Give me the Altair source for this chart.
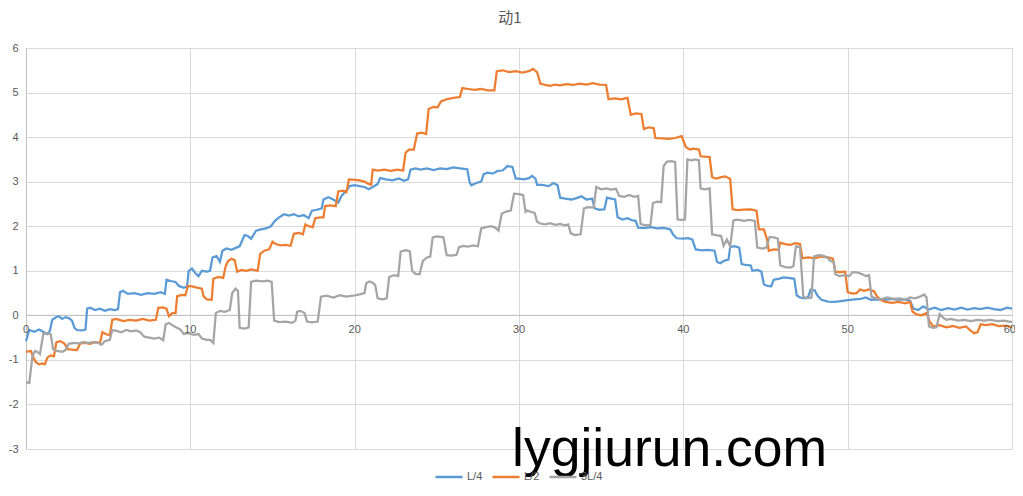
import altair as alt
import pandas as pd

# ---- data ----
series_names = ["L/4", "L/2", "3L/4"]
series_colors = ["#5b9bd5", "#ed7d31", "#a5a5a5"]
x_ticks = [0, 10, 20, 30, 40, 50, 60]
y_ticks = [-3, -2, -1, 0, 1, 2, 3, 4, 5, 6]

l4_x = [0, 0.1, 0.2, 0.5, 0.8, 1.1, 1.3, 1.45, 1.6, 1.8, 2.0, 2.2, 2.4, 2.6, 2.8, 2.95, 3.1, 3.4, 3.62,
        3.72, 3.9, 4.2, 4.5, 4.8, 5.1, 5.4, 5.6, 5.72, 5.9, 6.2, 6.6, 7.0, 7.4, 7.8, 8.2, 8.45, 8.55,
        8.8, 9.1, 9.3, 9.6, 9.8, 9.9, 10.1, 10.3, 10.5, 10.7, 11.0, 11.2, 11.35, 11.6, 11.8, 11.95,
        12.2, 12.5, 12.8, 13.0, 13.3, 13.5, 13.7, 14.0, 14.3, 14.6, 14.9, 15.15, 15.4, 15.7, 16.0,
        16.3, 16.6, 16.9, 17.2, 17.4, 17.7, 18.0, 18.1, 18.4, 18.7, 19.0, 19.2, 19.5, 19.7, 20.0,
        20.3, 20.6, 20.85, 21.1, 21.4, 21.55, 21.9, 22.3, 22.7, 23.0, 23.25, 23.4, 23.7, 24.0, 24.4,
        24.8, 25.2, 25.6, 26.0, 26.4, 26.85, 27.0, 27.1, 27.4, 27.7, 27.85, 28.1, 28.4, 28.7, 29.0,
        29.3, 29.6, 29.8, 30.0, 30.3, 30.6, 30.8, 31.0, 31.1, 31.4, 31.8, 32.1, 32.35, 32.5, 32.8,
        33.2, 33.5, 33.8, 34.1, 34.45, 34.6, 34.9, 35.2, 35.35, 35.6, 35.85, 36.0, 36.3, 36.6, 36.9,
        37.1, 37.25, 37.6, 38.0, 38.4, 38.8, 39.2, 39.4, 39.6, 40.0, 40.3, 40.55, 40.75, 41.1, 41.5,
        41.9, 42.05, 42.25, 42.5, 42.75, 42.85, 43.1, 43.4, 43.55, 43.8, 44.1, 44.2, 44.5, 44.75,
        44.9, 45.1, 45.35, 45.5, 45.8, 46.1, 46.4, 46.75, 46.9, 47.1, 47.4, 47.6, 47.75, 48.0, 48.15,
        48.4, 48.8, 49.2, 49.6, 50.0, 50.4, 50.8, 51.1, 51.4, 51.8, 52.2, 52.6, 53.0, 53.4, 53.8,
        54.0, 54.3, 54.6, 54.9, 55.3, 55.7, 56.1, 56.5, 56.9, 57.3, 57.7, 58.1, 58.5, 58.9, 59.3,
        59.7, 60.0]
l4_y = [-0.58, -0.45, -0.33, -0.37, -0.32, -0.38, -0.42, -0.35, -0.1, -0.05, -0.02, -0.08, -0.04,
        -0.06, -0.12, -0.28, -0.33, -0.34, -0.32, 0.15, 0.17, 0.12, 0.15, 0.1, 0.14, 0.12, 0.14, 0.52,
        0.55, 0.48, 0.5, 0.46, 0.5, 0.48, 0.52, 0.48, 0.8, 0.77, 0.75, 0.66, 0.62, 0.65, 1.0, 1.05,
        0.95, 0.88, 1.0, 0.98, 1.0, 1.3, 1.33, 1.2, 1.45, 1.5, 1.47, 1.52, 1.55, 1.8, 1.78, 1.72,
        1.9, 1.93, 1.95, 2.0, 2.12, 2.2, 2.27, 2.24, 2.27, 2.22, 2.25, 2.18, 2.35, 2.37, 2.4, 2.6,
        2.65, 2.6, 2.53, 2.68, 2.8, 2.9, 2.92, 2.9, 2.88, 2.83, 2.88, 2.95, 3.08, 3.05, 3.03, 3.07,
        3.02, 3.05, 3.27, 3.3, 3.27, 3.3, 3.26, 3.3, 3.28, 3.32, 3.3, 3.28, 2.98, 2.92, 2.97, 3.0,
        3.17, 3.2, 3.18, 3.24, 3.25, 3.35, 3.33, 3.07, 3.07, 3.05, 3.08, 3.13, 3.07, 2.93, 2.93, 2.9,
        2.97, 2.92, 2.64, 2.62, 2.6, 2.63, 2.67, 2.6, 2.62, 2.4, 2.37, 2.38, 2.64, 2.62, 2.6, 2.2,
        2.15, 2.18, 2.13, 2.12, 1.97, 1.96, 1.98, 1.95, 1.96, 1.93, 1.8, 1.73, 1.72, 1.73, 1.7, 1.48,
        1.46, 1.47, 1.45, 1.2, 1.17, 1.23, 1.25, 1.53, 1.55, 1.52, 1.15, 1.13, 1.12, 1.0, 1.02, 0.98,
        0.7, 0.66, 0.65, 0.8, 0.82, 0.85, 0.84, 0.82, 0.45, 0.4, 0.38, 0.42, 0.58, 0.56, 0.45, 0.35,
        0.31, 0.3, 0.32, 0.34, 0.36, 0.37, 0.4, 0.35, 0.36, 0.34, 0.37, 0.35, 0.36, 0.33, 0.15, 0.12,
        0.2, 0.13, 0.17, 0.12, 0.16, 0.13, 0.17, 0.13, 0.16, 0.14, 0.17, 0.14, 0.12, 0.17, 0.15]

l2_x = [0, 0.3, 0.45, 0.6, 0.8, 1.0, 1.15, 1.3, 1.5, 1.7, 1.85, 2.1, 2.35, 2.55, 2.8, 3.1, 3.3, 3.6,
        3.9, 4.2, 4.5, 4.65, 4.85, 5.1, 5.25, 5.5, 5.9, 6.3, 6.7, 7.1, 7.5, 7.9, 8.05, 8.3, 8.55, 8.7,
        8.9, 9.1, 9.2, 9.5, 9.7, 9.85, 10.1, 10.4, 10.7, 10.8, 11.0, 11.3, 11.4, 11.7, 12.0, 12.15,
        12.3, 12.5, 12.7, 12.85, 13.1, 13.4, 13.7, 14.1, 14.25, 14.5, 14.8, 15.0, 15.2, 15.5, 15.8,
        16.1, 16.3, 16.6, 16.85, 17.0, 17.2, 17.45, 17.6, 17.9, 18.1, 18.2, 18.5, 18.85, 19.0, 19.3,
        19.5, 19.65, 20.0, 20.3, 20.6, 20.85, 21.0, 21.1, 21.4, 21.8, 22.2, 22.6, 22.95, 23.1, 23.3,
        23.6, 23.8, 24.1, 24.35, 24.5, 24.8, 25.05, 25.25, 25.6, 26.0, 26.4, 26.55, 26.9, 27.3, 27.7,
        28.1, 28.5, 28.65, 29.0, 29.4, 29.8, 30.2, 30.6, 30.85, 31.1, 31.3, 31.6, 31.9, 32.2, 32.5,
        32.9, 33.3, 33.7, 34.1, 34.5, 34.9, 35.3, 35.45, 35.8, 36.2, 36.6, 36.8, 37.1, 37.45, 37.6,
        37.9, 38.2, 38.3, 38.7, 39.1, 39.5, 39.9, 40.15, 40.4, 40.6, 40.95, 41.05, 41.3, 41.6, 41.75,
        42.0, 42.3, 42.55, 42.85, 43.0, 43.3, 43.7, 44.1, 44.45, 44.6, 44.9, 45.1, 45.2, 45.5, 45.8,
        45.9, 46.2, 46.5, 46.8, 47.1, 47.25, 47.6, 48.0, 48.4, 48.8, 49.1, 49.25, 49.5, 49.85, 50.0,
        50.3, 50.55, 50.75, 51.0, 51.3, 51.6, 51.8, 52.0, 52.3, 52.7, 53.1, 53.5, 53.8, 53.95, 54.2,
        54.5, 54.8, 55.0, 55.2, 55.6, 56.0, 56.4, 56.8, 57.2, 57.5, 57.7, 57.9, 58.1, 58.4, 58.8,
        59.2, 59.6, 60.0]
l2_y = [-0.82, -0.8, -0.95, -1.05, -1.1, -1.08, -1.1, -0.95, -0.9, -0.92, -0.6, -0.58, -0.64, -0.76,
        -0.77, -0.78, -0.63, -0.62, -0.64, -0.6, -0.62, -0.38, -0.42, -0.45, -0.1, -0.08, -0.13, -0.1,
        -0.12, -0.08, -0.12, -0.1, 0.17, 0.18, 0.15, -0.02, 0.05, 0.05, 0.43, 0.46, 0.45, 0.66, 0.65,
        0.62, 0.6, 0.43, 0.36, 0.35, 0.82, 0.86, 0.84, 1.1, 1.22, 1.27, 1.24, 0.98, 1.02, 1.0, 1.03,
        1.0, 1.38, 1.45, 1.48, 1.65, 1.6, 1.57, 1.58, 1.56, 1.83, 1.85, 1.82, 2.04, 2.0, 1.98, 2.18,
        2.2, 2.2, 2.45, 2.47, 2.45, 2.78, 2.8, 2.76, 3.05, 3.04, 3.03, 3.0, 2.95, 2.93, 3.27, 3.25,
        3.27, 3.24, 3.27, 3.25, 3.65, 3.72, 3.72, 4.08, 4.1, 4.07, 4.63, 4.68, 4.67, 4.8, 4.85, 4.88,
        4.9, 5.1, 5.08, 5.06, 5.08, 5.05, 5.05, 5.48, 5.5, 5.46, 5.48, 5.45, 5.48, 5.53, 5.46, 5.2,
        5.17, 5.15, 5.18, 5.16, 5.19, 5.17, 5.2, 5.18, 5.21, 5.18, 5.17, 4.85, 4.87, 4.85, 4.88, 4.5,
        4.53, 4.52, 4.18, 4.22, 4.2, 3.98, 3.97, 3.96, 3.98, 4.02, 3.78, 3.72, 3.74, 3.72, 3.57, 3.56,
        3.55, 3.1, 3.07, 3.1, 3.12, 3.06, 2.38, 2.36, 2.37, 2.38, 2.35, 1.93, 1.93, 1.7, 1.45, 1.48,
        1.47, 1.63, 1.6, 1.58, 1.62, 1.6, 1.28, 1.3, 1.28, 1.32, 1.3, 1.27, 0.98, 0.97, 0.98, 0.52,
        0.49, 0.5, 0.58, 0.55, 0.58, 0.54, 0.42, 0.35, 0.3, 0.28, 0.3, 0.27, 0.3, 0.08, 0.02, 0.0,
        0.05, -0.15, -0.25, -0.22, -0.27, -0.24, -0.28, -0.25, -0.35, -0.4, -0.38, -0.2, -0.22, -0.2,
        -0.24, -0.23, -0.27]

l34_x = [0, 0.2, 0.3, 0.4, 0.55, 0.7, 0.85, 1.05, 1.3, 1.5, 1.65, 1.9, 2.2, 2.4, 2.6, 2.9, 3.2, 3.5,
         3.8, 4.1, 4.4, 4.6, 4.8, 5.1, 5.25, 5.5, 5.8, 6.1, 6.4, 6.7, 6.95, 7.2, 7.5, 7.8, 8.1, 8.35,
         8.5, 8.7, 8.9, 9.1, 9.4, 9.6, 9.9, 10.2, 10.5, 10.7, 11.0, 11.2, 11.4, 11.55, 11.8, 12.1,
         12.4, 12.55, 12.75, 12.9, 13.0, 13.3, 13.55, 13.7, 14.0, 14.4, 14.7, 14.95, 15.1, 15.4, 15.8,
         16.2, 16.4, 16.5, 16.7, 16.95, 17.1, 17.4, 17.75, 17.95, 18.3, 18.7, 19.1, 19.5, 19.9, 20.3,
         20.6, 20.7, 20.9, 21.1, 21.25, 21.4, 21.7, 21.95, 22.1, 22.4, 22.65, 22.8, 23.1, 23.35, 23.5,
         23.7, 23.95, 24.15, 24.4, 24.6, 24.75, 25.0, 25.4, 25.6, 25.9, 26.2, 26.35, 26.6, 26.9, 27.2,
         27.5, 27.7, 28.0, 28.3, 28.55, 28.75, 28.95, 29.2, 29.5, 29.7, 30.0, 30.25, 30.4, 30.5,
         30.75, 30.95, 31.1, 31.3, 31.6, 31.9, 32.2, 32.5, 32.8, 33.0, 33.15, 33.4, 33.75, 33.95,
         34.2, 34.55, 34.7, 35.0, 35.3, 35.6, 35.9, 36.1, 36.4, 36.7, 37.0, 37.25, 37.4, 37.7, 38.0,
         38.15, 38.4, 38.65, 38.8, 39.0, 39.3, 39.5, 39.65, 39.9, 40.1, 40.25, 40.5, 40.7, 40.95,
         41.05, 41.3, 41.6, 41.75, 42.0, 42.3, 42.45, 42.65, 42.85, 43.05, 43.3, 43.7, 44.0, 44.35,
         44.5, 44.8, 45.05, 45.25, 45.5, 45.75, 45.9, 46.2, 46.5, 46.7, 46.85, 47.1, 47.3, 47.5, 47.8,
         47.95, 48.2, 48.5, 48.75, 48.95, 49.15, 49.25, 49.5, 49.8, 50.1, 50.3, 50.6, 50.9, 51.1,
         51.3, 51.45, 51.7, 52.0, 52.4, 52.8, 53.2, 53.5, 53.8, 54.1, 54.4, 54.65, 54.8, 54.95, 55.2,
         55.4, 55.6, 55.8, 56.0, 56.3, 56.7, 57.1, 57.5, 57.9, 58.3, 58.7, 59.1, 59.5, 60.0]
l34_y = [-1.5, -1.52, -1.2, -0.9, -0.8, -0.82, -0.87, -0.42, -0.4, -0.42, -0.76, -0.8, -0.82, -0.78,
         -0.64, -0.62, -0.63, -0.6, -0.62, -0.6, -0.62, -0.66, -0.58, -0.55, -0.33, -0.35, -0.38,
         -0.33, -0.36, -0.34, -0.38, -0.48, -0.5, -0.52, -0.5, -0.56, -0.2, -0.17, -0.22, -0.26, -0.32,
         -0.42, -0.4, -0.44, -0.42, -0.52, -0.55, -0.55, -0.62, 0.05, 0.1, 0.08, 0.12, 0.5, 0.6, 0.55,
         -0.28, -0.3, -0.27, 0.75, 0.78, 0.76, 0.78, 0.75, -0.12, -0.15, -0.14, -0.17, -0.12, 0.08,
         0.1, 0.05, -0.14, -0.16, -0.14, 0.42, 0.44, 0.4, 0.45, 0.42, 0.44, 0.47, 0.5, 0.72, 0.76,
         0.73, 0.68, 0.38, 0.36, 0.38, 0.86, 0.9, 0.88, 1.43, 1.46, 1.44, 1.0, 0.93, 0.92, 1.22, 1.3,
         1.32, 1.75, 1.77, 1.75, 1.35, 1.34, 1.36, 1.53, 1.56, 1.54, 1.57, 1.55, 1.95, 1.98, 2.0,
         1.97, 1.9, 2.28, 2.33, 2.35, 2.73, 2.72, 2.7, 2.32, 2.35, 2.32, 2.3, 2.1, 2.06, 2.04, 2.07,
         2.03, 2.05, 2.02, 2.04, 1.84, 1.8, 1.82, 2.4, 2.43, 2.42, 2.88, 2.83, 2.85, 2.82, 2.84, 2.68,
         2.66, 2.7, 2.66, 2.68, 2.05, 2.02, 2.03, 2.52, 2.55, 2.54, 3.35, 3.45, 3.46, 3.44, 2.15, 2.14,
         2.15, 3.5, 3.48, 3.5, 3.48, 2.85, 2.83, 2.85, 1.82, 1.8, 1.78, 1.56, 1.7, 1.55, 2.13, 2.15,
         2.12, 2.14, 2.12, 1.52, 1.5, 1.52, 1.76, 1.75, 1.72, 1.12, 1.08, 1.07, 1.1, 1.55, 1.53, 0.42,
         0.38, 0.4, 1.32, 1.35, 1.34, 1.3, 1.22, 1.2, 0.92, 0.88, 0.9, 0.88, 0.97, 0.96, 0.92, 0.88,
         0.9, 0.42, 0.38, 0.36, 0.4, 0.37, 0.38, 0.35, 0.4, 0.38, 0.42, 0.47, 0.4, -0.25, -0.28, -0.27,
         0.03, -0.05, -0.1, -0.08, -0.12, -0.1, -0.13, -0.1, -0.12, -0.1, -0.13, -0.12, -0.15]

rows = []
for name, xs, ys in [(series_names[0], l4_x, l4_y),
                     (series_names[1], l2_x, l2_y),
                     (series_names[2], l34_x, l34_y)]:
    for i, (xv, yv) in enumerate(zip(xs, ys)):
        rows.append({"series": name, "x": xv, "y": yv, "order": i})
df = pd.DataFrame(rows)

inner_ticks = x_ticks[:-1]
last_tick = x_ticks[-1:]
ticks_df = pd.DataFrame({"t": inner_ticks, "label": [str(t) for t in inner_ticks]})
last_df = pd.DataFrame({"t": last_tick, "label": [str(t) for t in last_tick]})
zero_df = pd.DataFrame({"y": [0]})

W, H = 986, 401
label_color = "#595959"
grid_color = "#d9d9d9"

x_scale = alt.Scale(domain=[0, 60], nice=False, zero=False)
y_scale = alt.Scale(domain=[-3, 6], nice=False)

lines = alt.Chart(df).mark_line(strokeWidth=2.25).encode(
    x=alt.X("x:Q", scale=x_scale,
            axis=alt.Axis(values=x_ticks, grid=True, gridColor=grid_color, labels=False,
                          ticks=False, domain=False, title=None)),
    y=alt.Y("y:Q", scale=y_scale,
            axis=alt.Axis(values=y_ticks, grid=True, gridColor=grid_color, ticks=False,
                          domain=True, domainColor="#bfbfbf", labelColor=label_color,
                          labelFontSize=11, labelPadding=8, labelFont="Liberation Sans",
                          labelExpr="'' + datum.value", title=None)),
    color=alt.Color("series:N", scale=alt.Scale(domain=series_names, range=series_colors),
                    title=None,
                    legend=alt.Legend(orient="none", legendX=408, legendY=414,
                                      direction="horizontal", symbolType="stroke",
                                      symbolStrokeWidth=2.5, symbolSize=729,
                                      labelFontSize=11, labelColor=label_color,
                                      labelFont="Liberation Sans", columnPadding=4,
                                      labelOffset=3)),
    order="order:Q",
)

zero_rule = alt.Chart(zero_df).mark_rule(color="#bfbfbf", strokeWidth=1).encode(
    y=alt.Y("y:Q", scale=y_scale)
)

xlabels = alt.Chart(ticks_df).mark_text(
    fontSize=11, color=label_color, font="Liberation Sans", dy=15
).encode(
    x=alt.X("t:Q", scale=x_scale),
    y=alt.value(H * 6 / 9),
    text="label:N",
)

xlabel_last = alt.Chart(last_df).mark_text(
    fontSize=11, color=label_color, font="Liberation Sans", dy=15, align="right", dx=4
).encode(
    x=alt.X("t:Q", scale=x_scale),
    y=alt.value(H * 6 / 9),
    text="label:N",
)

watermark = alt.Chart(zero_df).mark_text(
    text="lygjiurun.com", fontSize=53.5, color="#000000", align="left",
    baseline="alphabetic", font="Liberation Sans"
).encode(x=alt.value(486), y=alt.value(418))

chart = alt.layer(zero_rule, lines, xlabels, xlabel_last, watermark).properties(
    width=W, height=H,
    title=alt.TitleParams("动1", fontSize=15, color=label_color, fontWeight="normal",
                          font="Noto Sans CJK SC", anchor="middle", offset=16, dx=-9),
    autosize=alt.AutoSizeParams(type="none"),
    padding={"left": 18, "top": 40, "right": 3, "bottom": 38},
).configure_view(stroke=None)

chart.save("out.html", embed_options={"renderer": "svg", "actions": False})
